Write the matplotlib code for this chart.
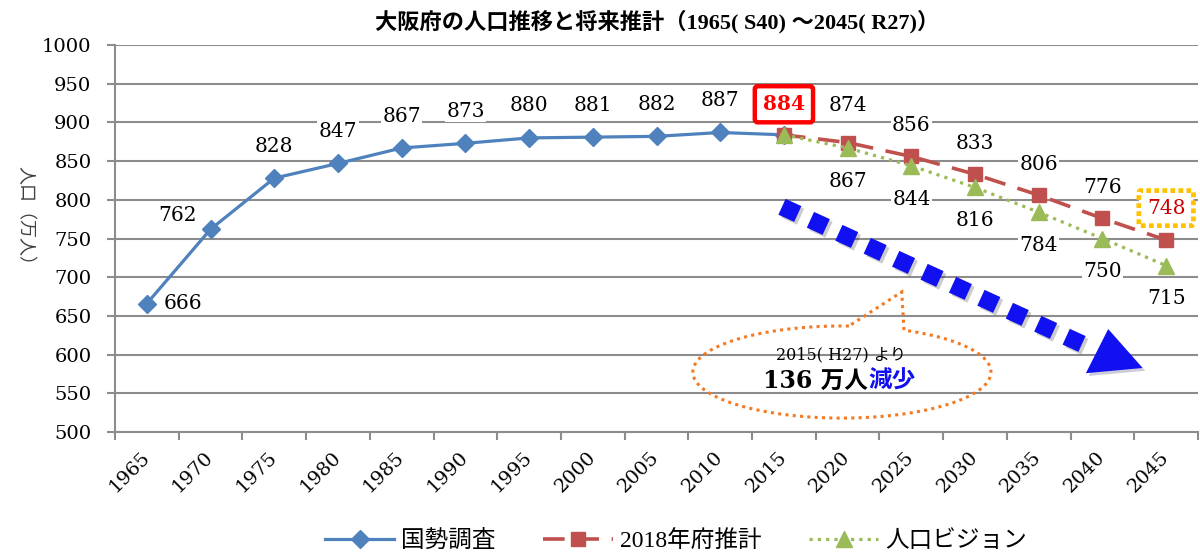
import numpy as np
import matplotlib
matplotlib.use("Agg")
import matplotlib.pyplot as plt
from matplotlib import patheffects as pe
from matplotlib.patches import Polygon
from matplotlib.font_manager import FontProperties

# data (万人)
years = ['1965', '1970', '1975', '1980', '1985', '1990', '1995', '2000', '2005',
         '2010', '2015', '2020', '2025', '2030', '2035', '2040', '2045']
census = [666, 762, 828, 847, 867, 873, 880, 881, 882, 887, 884]   # 1965-2015
pref_2018 = [884, 874, 856, 833, 806, 776, 748]                    # 2015-2045
vision = [884, 867, 844, 816, 784, 750, 715]                       # 2015-2045
series_names = ['国勢調査', '2018年府推計', '人口ビジョン']

JP = 'Noto Sans CJK JP'
SERIF = 'DejaVu Serif'
GRID = '#8c8c8c'

idx = np.arange(len(years))
i_census = idx[:len(census)]
i_proj = idx[len(census) - 1:]

fig = plt.figure(figsize=(12, 5.56), dpi=100)
ax = fig.add_axes([115 / 1200, 0.223, 1198 / 1200 - 115 / 1200, 0.919 - 0.223])

ax.set_xlim(-0.5, len(years) - 0.5)
ax.set_ylim(500, 1000)
ax.set_yticks(np.arange(500, 1001, 50))
ax.yaxis.grid(True, color=GRID, lw=1.5)
ax.set_axisbelow(True)
for s in ['top', 'right']:
    ax.spines[s].set_visible(False)
for s in ['left', 'bottom']:
    ax.spines[s].set_color(GRID)
    ax.spines[s].set_linewidth(1.5)

ax.set_xticks(idx)
ax.set_xticklabels(years, rotation=45, ha='right', va='center',
                   rotation_mode='anchor', family=SERIF, fontsize=14)
ax.tick_params(axis='x', which='major', length=0, pad=16)
ax.set_xticks(np.arange(-0.5, len(years), 1), minor=True)
ax.tick_params(axis='x', which='minor', length=6, width=1.5, color=GRID)
ax.tick_params(axis='y', length=6, width=1.5, color=GRID, pad=11)
for t in ax.get_yticklabels():
    t.set_family(SERIF)
    t.set_fontsize(14)

l1, = ax.plot(i_census, census, color='#4F81BD', lw=2.3, marker='D', ms=9,
              zorder=3)
l2, = ax.plot(i_proj, pref_2018, color='#C0504D', lw=2.6, marker='s', ms=10.5,
              dashes=(6, 3.5), zorder=4)
l3, = ax.plot(i_proj, vision, color='#9BBB59', lw=2.3, marker='^', ms=12,
              dashes=(1, 1.6), zorder=5)


def label(i, v, dx, dy, color='black', **kw):
    ax.annotate(str(v), (i, v), xytext=(dx, dy), textcoords='offset points',
                ha='center', va='center', fontsize=14.5, family=SERIF,
                color=color, zorder=6,
                bbox=kw.pop('bbox', dict(fc='white', ec='none', pad=1)), **kw)


# census labels
for k, (i, v) in enumerate(zip(i_census[:-1], census[:-1])):
    if k == 0:
        label(i, v, 26, 0)
    elif k == 1:
        label(i, v, -24, 10)
    else:
        label(i, v, 0, 23)
# 2015 value (boxed red)
label(i_census[-1], census[-1], 0, 22, color='#FF0000', fontweight='bold',
      bbox=dict(boxstyle='round,pad=0.4,rounding_size=0.15', fc='white',
                ec='#FF0000', lw=3.2))
# 2018 projection labels (above)
for k, (i, v) in enumerate(zip(i_proj[1:], pref_2018[1:])):
    if k == len(pref_2018) - 2:
        label(i, v, 0, 23, color='#CC0000',
              bbox=dict(boxstyle='round,pad=0.4,rounding_size=0.1', fc='white',
                        ec='#FFC000', lw=3.4, ls=(0, (1, 0.7))))
    else:
        label(i, v, 0, 27 if k == 0 else 22)
# vision labels (below)
for i, v in zip(i_proj[1:], vision[1:]):
    label(i, v, 0, -24)

# blue dotted arrow
shadow = [pe.SimpleLineShadow(offset=(2, -2), shadow_color='k', alpha=0.2),
          pe.Normal()]
ax.plot([9.97, 14.86], [791, 607], color='#1010F0', lw=12.5,
        dashes=(1.0, 0.8), dash_capstyle='butt', zorder=6,
        path_effects=shadow)
head = Polygon([[14.74, 576], [15.09, 633], [15.63, 582.7]], closed=True,
               fc='#1010F0', ec='none', zorder=6,
               path_effects=[pe.SimplePatchShadow(offset=(2, -2), alpha=0.2),
                             pe.Normal()])
ax.add_patch(head)

# callout bubble
cx, cy, a, b = 10.91, 577.5, 2.34, 59.5
t = np.radians(np.linspace(87.3, 360 + 65.4, 200))
pts = np.column_stack([cx + a * np.cos(t), cy + b * np.sin(t)])
pts = np.vstack([pts, [11.85, 681]])
bubble = Polygon(pts, closed=True, fill=False, ec='#F47920', lw=2.2,
                 ls=(0, (1, 1.4)), zorder=5)
ax.add_patch(bubble)
ax.text(10.9, 600, '2015( H27) より', ha='center', va='center', fontsize=11.5,
        family=[SERIF, JP], zorder=6)
ax.text(11.32, 566, '136 万人', ha='right', va='center', fontsize=17,
        fontweight='bold', family=[SERIF, JP], zorder=6)
ax.text(11.32, 566, '減少', ha='left', va='center', fontsize=17,
        fontweight='bold', family=JP, color='#1010F0', zorder=6)

# title, axis label
fig.text(657 / 1200, 1 - 22 / 556, '大阪府の人口推移と将来推計（1965( S40) ～2045( R27)）',
         ha='center', va='center', fontsize=16, fontweight='bold',
         family=['Liberation Serif', JP])
fig.text(25 / 1200, 1 - 220 / 556, '人口（万人）', rotation=270, ha='center',
         va='center', fontsize=13, family=JP, color='#404040')

fig.legend([l1, l2, l3], series_names, loc='center',
           bbox_to_anchor=(676 / 1200, 1 - 541 / 556), ncol=3, frameon=False,
           prop=FontProperties(family=['Liberation Serif', JP], size=17),
           handlelength=2.95, columnspacing=2.0, handletextpad=0.3)

fig.savefig('out.png', dpi=100)
